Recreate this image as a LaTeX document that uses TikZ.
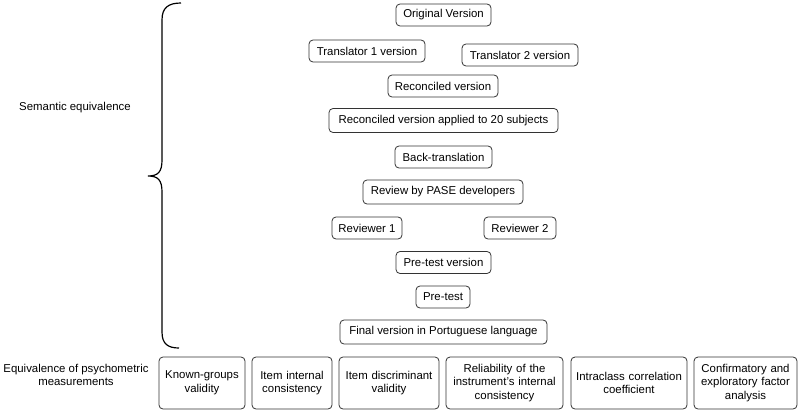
\documentclass[tikz,border=0pt]{standalone}
\usepackage{fontspec}
\setmainfont{Liberation Sans}
\begin{document}
\begin{tikzpicture}[x=1pt,y=-1pt,
  step box/.style={draw=black!80,rounded corners=4pt,line width=0.8pt,inner sep=0pt,
    minimum height=22pt,font=\fontsize{11.4}{13.5}\selectfont},
  test box/.style={draw=black!80,rounded corners=4pt,line width=0.8pt,inner sep=0pt,
    minimum height=52pt,align=center,font=\fontsize{11.4}{13.5}\selectfont},
  side text/.style={align=center,font=\fontsize{11.4}{13.5}\selectfont}]
\useasboundingbox (0,0) rectangle (800,412);
% semantic equivalence steps
\node[step box,minimum width=95pt] (orig) at (443.5,15) {Original Version};
\node[step box,minimum width=116pt] (trans1) at (367,51) {Translator 1 version};
\node[step box,minimum width=116pt] (trans2) at (520,55) {Translator 2 version};
\node[step box,minimum width=110pt] (recon) at (443,86) {Reconciled version};
\node[step box,minimum width=229pt,minimum height=24pt] (applied) at (443.5,120.5) {Reconciled version applied to 20 subjects};
\node[step box,minimum width=97pt] (back) at (443.5,157) {Back-translation};
\node[step box,minimum width=160pt,minimum height=24pt] (review) at (443,192) {Review by PASE developers};
\node[step box,minimum width=70pt] (rev1) at (367,228) {Reviewer 1};
\node[step box,minimum width=72pt] (rev2) at (520,228) {Reviewer 2};
\node[step box,minimum width=95pt] (pretv) at (443.5,262.5) {Pre-test version};
\node[step box,minimum width=54pt] (pret) at (443,297) {Pre-test};
\node[step box,minimum width=207pt,minimum height=24pt] (final) at (443.5,332) {Final version in Portuguese language};
% brace
\draw[line width=1.2pt] (181,3) .. controls (168,3) and (162,8) .. (162,20) -- (162,160)
  .. controls (162,172) and (158,176) .. (148,176) .. controls (158,176) and (162,180) .. (162,192)
  -- (162,332) .. controls (162,344) and (168,348) .. (179,348);
\node[side text] (sem) at (75,108) {Semantic equivalence};
% psychometric measurements
\node[side text] (psy) at (76,375) {Equivalence of psychometric\\measurements};
\node[test box,minimum width=86pt,text width=80pt] (known) at (202,383) {Known-groups\\validity};
\node[test box,minimum width=80pt,text width=74pt] (intern) at (292,383) {Item internal\\consistency};
\node[test box,minimum width=100pt,text width=94pt] (discr) at (389,383) {Item discriminant\\validity};
\node[test box,minimum width=117pt,text width=111pt] (relia) at (504.5,383) {Reliability of the\\instrument's internal\\consistency};
\node[test box,minimum width=116pt,text width=110pt] (icc) at (629,383) {Intraclass correlation\\coefficient};
\node[test box,minimum width=103pt,text width=97pt] (factor) at (745.5,383) {Confirmatory and\\exploratory factor\\analysis};
\end{tikzpicture}
\end{document}
